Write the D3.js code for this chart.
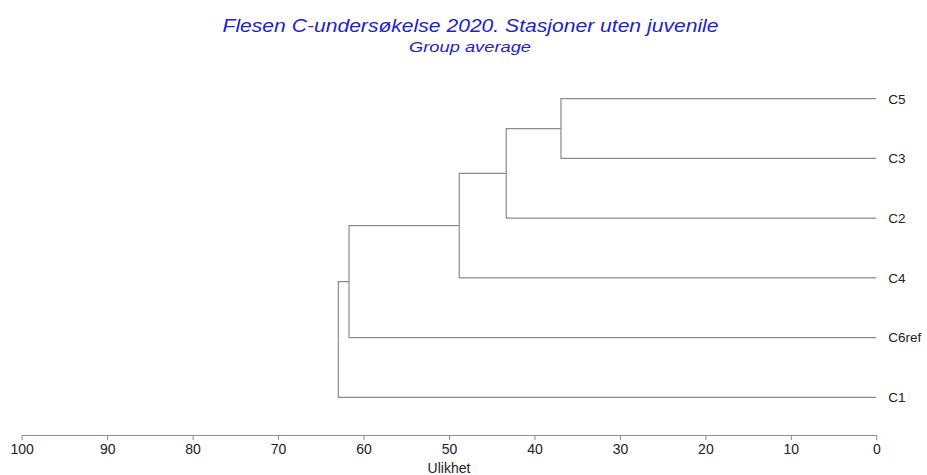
<!DOCTYPE html>
<html>
<head>
<meta charset="utf-8">
<script src="https://cdn.jsdelivr.net/npm/d3@7"></script>
<style>
  body { margin: 0; background: #fff; }
  svg { display: block; }
  .title { font-family: "Liberation Sans", Arial, sans-serif; font-style: italic; fill: #2222cc; }
  .leafLabel, .tick text, .axisLabel { font-family: "Liberation Sans", Arial, sans-serif; fill: #222; }
</style>
</head>
<body>
<svg id="dendro" width="927" height="475"></svg>
<script>
//////////////////// DATA ////////////////////
// leaf order top to bottom
const leaves = ["C5", "C3", "C2", "C4", "C6ref", "C1"];

// merge steps: [left, right, dissimilarity]
const mergeLeft = ["C5", "m1", "m2", "m3", "m4"];
const mergeRight = ["C3", "C2", "C4", "C6ref", "C1"];
const mergeHeight = [36.9, 43.3, 48.8, 61.7, 62.95];

const axisTicks = [100, 90, 80, 70, 60, 50, 40, 30, 20, 10, 0];

//////////////////// SIZES ////////////////////
const svg = d3.select("#dendro");
const plot = { left: 21.7, right: 876.3, top: 98.7, bottom: 397.3, axisY: 435 };

//////////////////// SCALES ////////////////////
const scaleX = d3.scaleLinear()
    .domain([100, 0])
    .range([plot.left, plot.right]);

const scaleY = d3.scalePoint()
    .domain(leaves)
    .range([plot.top, plot.bottom]);

//////////////////// BUILD NODES ////////////////////
const nodes = new Map();
leaves.forEach(l => nodes.set(l, { y: scaleY(l), h: 0 }));
mergeHeight.forEach((h, i) => {
    const a = nodes.get(mergeLeft[i]);
    const b = nodes.get(mergeRight[i]);
    const node = { y: (a.y + b.y) / 2, h: h, kids: [a, b] };
    nodes.set("m" + (i + 1), node);
});

// one elbow per child link
const links = [];
nodes.forEach(n => {
    if (n.kids) n.kids.forEach(k => links.push({ parent: n, child: k }));
});

svg.selectAll(".link")
    .data(links)
    .enter()
    .append("path")
    .attr("class", "link")
    .attr("fill", "none")
    .attr("stroke", "#8c8c8c")
    .attr("stroke-width", 1.2)
    .attr("d", d => `M${scaleX(d.parent.h)},${d.parent.y}V${d.child.y}H${scaleX(d.child.h)}`);

// leaf labels
svg.selectAll(".leafLabel")
    .data(leaves)
    .enter()
    .append("text")
    .attr("class", "leafLabel")
    .attr("x", plot.right + 12)
    .attr("y", d => scaleY(d))
    .attr("dy", "0.36em")
    .attr("font-size", 13.5)
    .text(d => d);

//////////////////// AXIS ////////////////////
const xAxis = d3.axisBottom(scaleX)
    .tickValues(axisTicks)
    .tickSize(5)
    .tickSizeOuter(0)
    .tickPadding(4);

const axisGroup = svg.append("g")
    .attr("transform", `translate(0, ${plot.axisY})`)
    .call(xAxis);

axisGroup.select(".domain").attr("stroke", "#8c8c8c").attr("stroke-width", 1.2);
axisGroup.selectAll(".tick line").attr("stroke", "#8c8c8c");
axisGroup.selectAll(".tick text").attr("font-size", 14).attr("fill", "#222");

svg.append("text")
    .attr("class", "axisLabel")
    .attr("x", scaleX(50))
    .attr("y", 473)
    .attr("text-anchor", "middle")
    .attr("font-size", 14)
    .text("Ulikhet");

//////////////////// TITLES ////////////////////
svg.append("text")
    .attr("class", "title")
    .attr("x", 470.5)
    .attr("y", 32)
    .attr("text-anchor", "middle")
    .attr("font-size", 18.5)
    .attr("textLength", 496)
    .attr("lengthAdjust", "spacingAndGlyphs")
    .text("Flesen C-undersøkelse 2020. Stasjoner uten juvenile");

svg.append("text")
    .attr("class", "title")
    .attr("x", 470)
    .attr("y", 52)
    .attr("text-anchor", "middle")
    .attr("font-size", 15)
    .attr("textLength", 122)
    .attr("lengthAdjust", "spacingAndGlyphs")
    .text("Group average");
</script>
</body>
</html>
